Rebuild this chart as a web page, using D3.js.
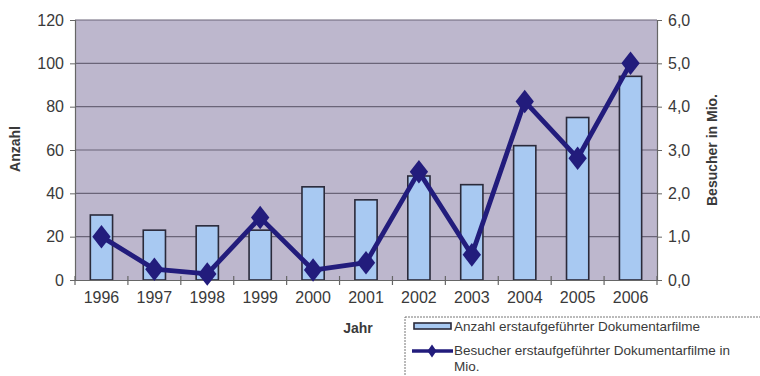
<!DOCTYPE html>
<html>
<head>
<meta charset="utf-8">
<script src="https://cdn.jsdelivr.net/npm/d3@7"></script>
<style>
  html, body { margin: 0; padding: 0; background: #fff; }
  svg { display: block; font-family: "Liberation Sans", Arial, sans-serif; }
</style>
</head>
<body>
<svg id="chart" width="760" height="376"></svg>
<script>
// Erstaufgeführte Dokumentarfilme: Anzahl und Besucher (Mio.)
const years = ["1996", "1997", "1998", "1999", "2000", "2001", "2002", "2003", "2004", "2005", "2006"];
const filmCounts = [30, 23, 25, 23, 43, 37, 48, 44, 62, 75, 94];
const visitorsMio = [1.0, 0.25, 0.14, 1.44, 0.23, 0.4, 2.5, 0.58, 4.12, 2.81, 5.0];
const leftTicks = [0, 20, 40, 60, 80, 100, 120];
const rightTicks = [0, 1, 2, 3, 4, 5, 6];
const legendLabels = ["Anzahl erstaufgeführter Dokumentarfilme", "Besucher erstaufgeführter Dokumentarfilme in", "Mio."];

const svg = d3.select("#chart");
const plot = { left: 75, right: 657, top: 20, bottom: 280 };

const x = d3.scaleBand().domain(years).range([plot.left, plot.right]).paddingInner(0).paddingOuter(0);
const yLeft = d3.scaleLinear().domain([0, 120]).range([plot.bottom, plot.top]);
const yRight = d3.scaleLinear().domain([0, 6]).range([plot.bottom, plot.top]);

const textColor = "#3a3a3a";
const lineColor = "#221c7c";

// plot background
svg.append("rect")
  .attr("x", plot.left).attr("y", plot.top)
  .attr("width", plot.right - plot.left).attr("height", plot.bottom - plot.top)
  .attr("fill", "#bdb7cd");

// gridlines
svg.append("g").selectAll("line").data(leftTicks.slice(1)).join("line")
  .attr("x1", plot.left).attr("x2", plot.right)
  .attr("y1", d => yLeft(d)).attr("y2", d => yLeft(d))
  .attr("stroke", "#6a6478").attr("stroke-width", 1.2);

// bars
const barW = x.bandwidth() * 0.42;
svg.append("g").selectAll("rect").data(years).join("rect")
  .attr("x", d => x(d) + (x.bandwidth() - barW) / 2)
  .attr("y", (d, i) => yLeft(filmCounts[i]))
  .attr("width", barW)
  .attr("height", (d, i) => plot.bottom - yLeft(filmCounts[i]))
  .attr("fill", "#a8c9f2")
  .attr("stroke", "#2a2a3a").attr("stroke-width", 1.6);

// left axis
const leftAxis = d3.axisLeft(yLeft).tickValues(leftTicks).tickSize(5).tickPadding(6);
const gL = svg.append("g").attr("transform", `translate(${plot.left},0)`).call(leftAxis);
gL.select(".domain").attr("stroke", "#666").attr("stroke-width", 1.2);
gL.selectAll(".tick line").attr("stroke", "#666");
gL.selectAll("text").attr("fill", textColor).attr("font-size", 16);

// right axis
const fmt = d => d.toFixed(1).replace(".", ",");
const rightAxis = d3.axisRight(yRight).tickValues(rightTicks).tickSize(5).tickPadding(6).tickFormat(fmt);
const gR = svg.append("g").attr("transform", `translate(${plot.right},0)`).call(rightAxis);
gR.select(".domain").attr("stroke", "#666").attr("stroke-width", 1.2);
gR.selectAll(".tick line").attr("stroke", "#666");
gR.selectAll("text").attr("fill", textColor).attr("font-size", 16);

// bottom axis
const bottomAxis = d3.axisBottom(x).tickSize(0).tickPadding(12);
const gB = svg.append("g").attr("transform", `translate(0,${plot.bottom})`).call(bottomAxis);
gB.select(".domain").attr("stroke", "#666").attr("stroke-width", 1.2);
gB.selectAll("text").attr("fill", textColor).attr("font-size", 16);
// category separator ticks
gB.append("g").selectAll("line").data(years.concat(["end"])).join("line")
  .attr("x1", (d, i) => plot.left + i * x.step()).attr("x2", (d, i) => plot.left + i * x.step())
  .attr("y1", -4).attr("y2", 5)
  .attr("stroke", "#666").attr("stroke-width", 1.2);

// visitor line with diamond markers
const line = d3.line()
  .x((d, i) => x(years[i]) + x.bandwidth() / 2)
  .y(d => yRight(d));
svg.append("path").datum(visitorsMio)
  .attr("d", line)
  .attr("fill", "none").attr("stroke", lineColor).attr("stroke-width", 4.8)
  .attr("stroke-linejoin", "round");
const diamond = d3.symbol().type(d3.symbolDiamond).size(160);
svg.append("g").selectAll("path").data(visitorsMio).join("path")
  .attr("transform", (d, i) => `translate(${x(years[i]) + x.bandwidth() / 2},${yRight(d)}) scale(1.35,1)`)
  .attr("d", diamond)
  .attr("fill", lineColor);

// axis titles
svg.append("text")
  .attr("transform", `translate(20,${(plot.top + plot.bottom) / 2 - 1}) rotate(-90)`)
  .attr("text-anchor", "middle").attr("font-size", 14).attr("font-weight", "bold")
  .attr("fill", textColor).text("Anzahl");
svg.append("text")
  .attr("transform", `translate(717,${(plot.top + plot.bottom) / 2}) rotate(-90)`)
  .attr("text-anchor", "middle").attr("font-size", 14).attr("font-weight", "bold")
  .attr("fill", textColor).text("Besucher in Mio.");
svg.append("text")
  .attr("x", 358).attr("y", 333)
  .attr("text-anchor", "middle").attr("font-size", 14).attr("font-weight", "bold")
  .attr("fill", textColor).text("Jahr");

// legend
const lg = svg.append("g");
lg.append("rect")
  .attr("x", 405).attr("y", 317).attr("width", 370).attr("height", 70)
  .attr("fill", "#fff").attr("stroke", "#777").attr("stroke-width", 1)
  .attr("stroke-dasharray", "2,1");
lg.append("rect")
  .attr("x", 414).attr("y", 323).attr("width", 37).attr("height", 6)
  .attr("fill", "#a8c9f2").attr("stroke", "#2a2a3a").attr("stroke-width", 1.6);
lg.append("line")
  .attr("x1", 412).attr("x2", 453).attr("y1", 351).attr("y2", 351)
  .attr("stroke", lineColor).attr("stroke-width", 3.5);
lg.append("path")
  .attr("transform", "translate(432,351) scale(1.2,1)")
  .attr("d", d3.symbol().type(d3.symbolDiamond).size(50))
  .attr("fill", lineColor);
lg.append("text").attr("x", 454).attr("y", 331).attr("font-size", 13.5)
  .attr("fill", textColor).text(legendLabels[0]);
lg.append("text").attr("x", 454).attr("y", 355).attr("font-size", 13.5)
  .attr("fill", textColor).text(legendLabels[1]);
lg.append("text").attr("x", 454).attr("y", 371).attr("font-size", 13.5)
  .attr("fill", textColor).text(legendLabels[2]);
</script>
</body>
</html>
